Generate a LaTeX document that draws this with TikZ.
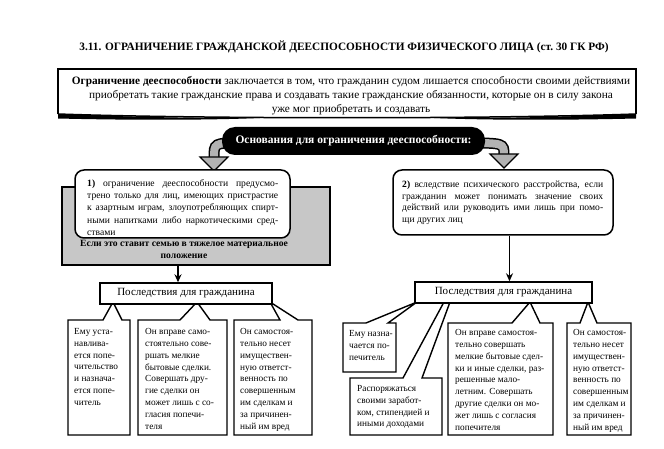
\documentclass[tikz,border=0pt]{standalone}
\usepackage{fontspec}
\setmainfont{Liberation Serif}
\usetikzlibrary{arrows.meta}
\newcommand\jline[1]{\makebox[\linewidth][s]{#1}\par}
\begin{document}
\begin{tikzpicture}[x=1pt,y=-1pt,
  callout/.style={draw=black, line width=1.4pt, fill=white, line join=miter},
  ctext/.style={anchor=north west, inner sep=0pt, align=left, font=\fontsize{9.3}{11.9}\selectfont},
  cons/.style={draw=black, line width=1.4pt, fill=white, inner sep=0pt, font=\fontsize{11}{13}\selectfont},
  rbox/.style={draw=black, line width=1.5pt, fill=white, rounded corners=9pt, inner sep=0pt},
  arr/.style={-{Stealth[length=8pt,width=7pt]}, line width=1.6pt},
  garrow/.style={line width=#1, line cap=butt}
]
\useasboundingbox (0,0) rectangle (664,449);

% title
\node[inner sep=0pt, font=\fontsize{11.3}{13}\selectfont\bfseries] (title) at (344,47)
  {3.11. ОГРАНИЧЕНИЕ ГРАЖДАНСКОЙ ДЕЕСПОСОБНОСТИ ФИЗИЧЕСКОГО ЛИЦА (ст.~30 ГК РФ)};

% top box
\draw[line width=1.5pt, line join=miter] (58,114) -- (58,69) -- (636,69) -- (636,114);
\draw[line width=1.5pt] (58,114) .. controls (200,119) and (494,119) .. (636,114);
\fill (58,114) .. controls (130,117) and (210,118.5) .. (260,118) .. controls (200,120.5) and (120,120) .. (58,118.5) -- cycle;
\fill (636,114) .. controls (564,117) and (484,118.5) .. (434,118) .. controls (494,120.5) and (574,120) .. (636,118.5) -- cycle;
\node[inner sep=0pt, align=center, font=\fontsize{11.3}{14}\selectfont] (toptext) at (351,95.5)
  {\textbf{Ограничение дееспособности} заключается в том, что гражданин судом лишается способности своими действиями\\
   приобретать такие гражданские права и создавать такие гражданские обязанности, которые он в силу закона\\
   уже мог приобретать и создавать};

% grey curved arrows (behind the pill)
\draw[garrow=11pt, black] (240,143) .. controls (214,143) .. (214,158);
\draw[garrow=8pt, black!30] (240,143) .. controls (214,143) .. (214,158.5);
\draw[line width=1.2pt, fill=black!30, line join=miter] (200,157) -- (228,157) -- (214,171) -- cycle;
\draw[garrow=11pt, black] (466,143) .. controls (504,143) .. (504,155);
\draw[garrow=8pt, black!30] (466,143) .. controls (504,143) .. (504,155.5);
\draw[line width=1.2pt, fill=black!30, line join=miter] (490,154) -- (518,154) -- (504,168) -- cycle;

% pill
\node[fill=black, rounded corners=13pt, minimum width=263pt, minimum height=28pt, inner sep=0pt,
      text=white, font=\fontsize{11.5}{13}\selectfont\bfseries] (pill) at (353.5,141)
  {Основания для ограничения дееспособности:};

% left grey box and rounded box 1
\node[draw=black, line width=1.6pt, fill=black!22, minimum width=268pt, minimum height=78pt, inner sep=0pt] (grey) at (196,226) {};
\node[rbox, minimum width=215pt, minimum height=68pt] (box1) at (182.5,204) {};
\node[anchor=north west, inner sep=0pt] (box1text) at (87,179.5)
  {\parbox{191pt}{\fontsize{9.6}{12.2}\selectfont
   \jline{\textbf{1)} ограничение дееспособности предусмо-}
   \jline{трено только для лиц, имеющих пристрастие}
   \jline{к азартным играм, злоупотребляющих спирт-}
   \jline{ными напитками либо наркотическими сред-}
   ствами}};
\node[inner sep=0pt, align=center, font=\fontsize{9.6}{12.5}\selectfont\bfseries] (greytext) at (184,249.5)
  {Если это ставит семью в тяжелое материальное\\положение};

% right rounded box 2
\node[rbox, minimum width=220pt, minimum height=65pt] (box2) at (503,202.5) {};
\node[anchor=north west, inner sep=0pt] (box2text) at (402,180.5)
  {\parbox{201pt}{\fontsize{9.6}{11.8}\selectfont
   \jline{\textbf{2)} вследствие психического расстройства, если}
   \jline{гражданин может понимать значение своих}
   \jline{действий или руководить ими лишь при помо-}
   щи других лиц}};

% callouts left
\draw[callout] (68,320) -- (103,320) -- (113,302) -- (122,320) -- (130,320) -- (130,435) -- (68,435) -- cycle;
\draw[callout] (138,320) -- (180,320) -- (197,302) -- (210,320) -- (227,320) -- (227,435) -- (138,435) -- cycle;
\draw[callout] (234,320) -- (280,320) -- (270,302) -- (298,320) -- (312,320) -- (312,435) -- (234,435) -- cycle;
% callouts right
\draw[callout] (343,323) -- (366,323) -- (417,302) -- (388,323) -- (396,323) -- (396,372) -- (343,372) -- cycle;
\draw[callout] (350,378) -- (403,378) -- (444,302) -- (450,302) -- (422,378) -- (442,378) -- (442,435) -- (350,435) -- cycle;
\draw[callout] (448,323) -- (512,323) -- (530,302) -- (540,323) -- (553,323) -- (553,435) -- (448,435) -- cycle;
\draw[callout] (567,323) -- (580,323) -- (588,302) -- (597,323) -- (631,323) -- (631,435) -- (567,435) -- cycle;

% consequences boxes
\node[cons, minimum width=172pt, minimum height=21pt] (cons1) at (186,293.5) {Последствия для гражданина};
\node[cons, minimum width=177pt, minimum height=21pt] (cons2) at (503.5,292.5) {Последствия для гражданина};

% arrows
\draw[arr] ([xshift=-18pt]grey.south) coordinate (a1) -- (a1 |- cons1.north);
\draw[arr] ([xshift=6.5pt]box2.south) coordinate (b2) -- (b2 |- cons2.north);

% callout texts
\node[ctext] (ta) at (74,328) {Ему уста-\\навлива-\\ется попе-\\чительство\\и назнача-\\ется попе-\\читель};
\node[ctext] (tb) at (145,328) {Он вправе само-\\стоятельно сове-\\ршать мелкие\\бытовые сделки.\\Совершать дру-\\гие сделки он\\может лишь с со-\\гласия попечи-\\теля};
\node[ctext] (tc) at (240,328) {Он самостоя-\\тельно несет\\имуществен-\\ную ответст-\\венность по\\совершенным\\им сделкам и\\за причинен-\\ный им вред};
\node[ctext] (td) at (349,330) {Ему назна-\\чается по-\\печитель};
\node[ctext] (te) at (357,385) {Распоряжаться\\своими заработ-\\ком, стипендией и\\иными доходами};
\node[ctext] (tf) at (455,329) {Он вправе самостоя-\\тельно совершать\\мелкие бытовые сдел-\\ки и иные сделки, раз-\\решенные мало-\\летним. Совершать\\другие сделки он мо-\\жет лишь с согласия\\попечителя};
\node[ctext] (tg) at (573,329) {Он самостоя-\\тельно несет\\имуществен-\\ную ответст-\\венность по\\совершенным\\им сделкам и\\за причинен-\\ный им вред};
\end{tikzpicture}
\end{document}
